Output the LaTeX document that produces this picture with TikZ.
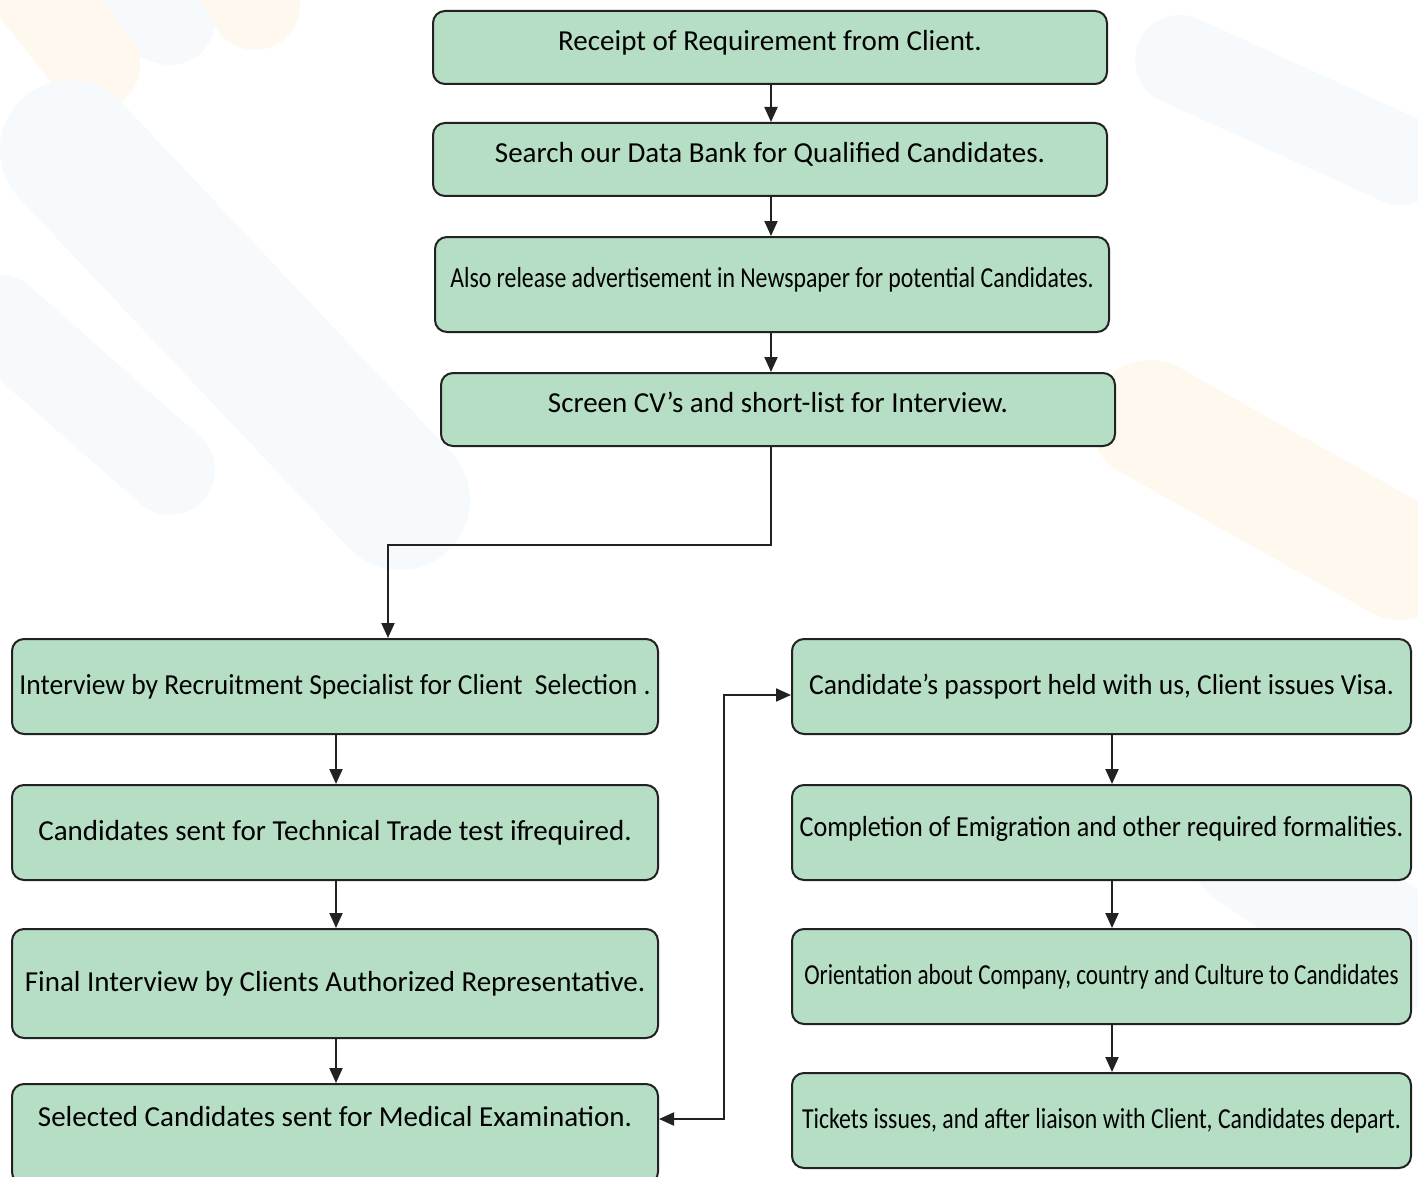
\documentclass[tikz,border=0pt]{standalone}
\usepackage{fontspec}
\setmainfont{Carlito}
\newfontfamily\narrowfont[FakeStretch=0.82]{Carlito}
\newfontfamily\tightfont[FakeStretch=0.80]{Carlito}
\newfontfamily\semifont[FakeStretch=0.90]{Carlito}
\newfontfamily\slimfont[FakeStretch=0.95]{Carlito}
\usetikzlibrary{arrows.meta}
\definecolor{boxgreen}{RGB}{181,222,196}
\definecolor{edge}{RGB}{34,34,34}
\definecolor{paleorange}{RGB}{254,248,238}
\definecolor{paleblue}{RGB}{247,250,252}
\tikzset{
  stage/.style={draw=edge, line width=2pt, fill=boxgreen, rounded corners=12pt,
    inner sep=0pt, anchor=north west, font=\fontsize{29}{34}\selectfont},
  flow/.style={-{Triangle[length=15pt,width=13pt]}, line width=2pt, draw=edge},
  twoway/.style={{Triangle[length=15pt,width=13pt]}-{Triangle[length=15pt,width=13pt]}, line width=2pt, draw=edge},
  stripe/.style={line cap=round, line width=90pt}
}
\begin{document}
\begin{tikzpicture}[x=1pt,y=-1pt]
\useasboundingbox (0,0) rectangle (1418,1177);
\clip (0,0) rectangle (1418,1177);
\fill [white] (0,0) rectangle (1418,1177);

% faint background stripes
\draw [stripe, paleblue] (60,-20) -- (170,20);
\draw [stripe, paleorange] (20,-30) -- (95,65);
\draw [stripe, paleorange] (220,-60) -- (255,5);
\draw [stripe, paleblue, line width=140pt] (70,150) -- (400,500);
\draw [stripe, paleblue] (0,320) -- (170,470);
\draw [stripe, paleblue] (1180,60) -- (1400,160);
\draw [stripe, paleorange, line width=120pt] (1150,420) -- (1400,560);
\draw [stripe, paleblue, line width=120pt] (1250,850) -- (1400,950);

% top column
\node [stage, minimum width=674pt, minimum height=73pt, text depth=14pt] (rec) at (432,10) {Receipt of Requirement from Client.};
\node [stage, minimum width=674pt, minimum height=73pt, text depth=14pt] (bank) at (432,122) {Search our Data Bank for Qualified Candidates.};
\node [stage, minimum width=674pt, minimum height=95pt, text depth=14pt] (advert) at (434,236) {\narrowfont Also release advertisement in Newspaper for potential Candidates.};
\node [stage, minimum width=674pt, minimum height=73pt, text depth=14pt] (screen) at (440,372) {Screen CV’s and short-list for Interview.};

% left column
\node [stage, minimum width=646pt, minimum height=95pt] (interview) at (11,638) {\slimfont Interview by Recruitment Specialist for Client\ \ Selection .};
\node [stage, minimum width=646pt, minimum height=95pt] (trade) at (11,784) {Candidates sent for Technical Trade test if\kern-2pt required.};
\node [stage, minimum width=646pt, minimum height=109pt] (final) at (11,928) {Final Interview by Clients Authorized Representative.};
\node [stage, minimum width=646pt, minimum height=100pt, text depth=36pt] (medical) at (11,1083) {Selected Candidates sent for Medical Examination.};

% right column
\node [stage, minimum width=619pt, minimum height=95pt] (visa) at (791,638) {\slimfont Candidate’s passport held with us, Client issues Visa.};
\node [stage, minimum width=619pt, minimum height=95pt, text depth=12pt] (emig) at (791,784) {\semifont Completion of Emigration and other required\ formalities.};
\node [stage, minimum width=619pt, minimum height=95pt] (orient) at (791,928) {\tightfont Orientation about Company, country and Culture to Candidates};
\node [stage, minimum width=619pt, minimum height=95pt] (ticket) at (791,1072) {\narrowfont Tickets issues, and after liaison with Client, Candidates depart.};

\coordinate (midline) at (771,0);
\coordinate (leftline) at (336,0);
\coordinate (rightline) at (1112,0);
\coordinate (drop) at (388,545);
\coordinate (elbow) at (724,1119);

\draw [flow] (rec.south -| midline) -- (bank.north -| midline);
\draw [flow] (bank.south -| midline) -- (advert.north -| midline);
\draw [flow] (advert.south -| midline) -- (screen.north -| midline);
\draw [flow] (screen.south -| midline) |- (drop) -- (interview.north -| drop);

\draw [flow] (interview.south -| leftline) -- (trade.north -| leftline);
\draw [flow] (trade.south -| leftline) -- (final.north -| leftline);
\draw [flow] (final.south -| leftline) -- (medical.north -| leftline);

\draw [twoway] (visa.west |- 0,695) -| (elbow) -- (medical.east |- elbow);

\draw [flow] (visa.south -| rightline) -- (emig.north -| rightline);
\draw [flow] (emig.south -| rightline) -- (orient.north -| rightline);
\draw [flow] (orient.south -| rightline) -- (ticket.north -| rightline);
\end{tikzpicture}
\end{document}
